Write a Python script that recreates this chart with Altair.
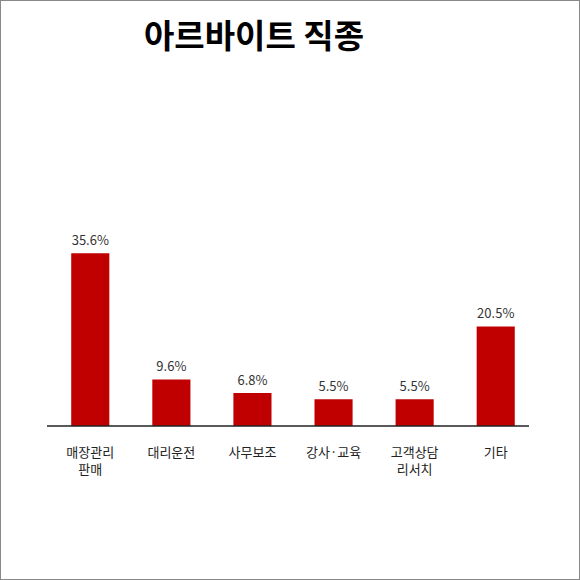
import altair as alt
import pandas as pd

# Part-time job categories and their shares (%)
categories = ["매장관리|판매", "대리운전", "사무보조", "강사·교육", "고객상담|리서치", "기타"]
shares = [35.6, 9.6, 6.8, 5.5, 5.5, 20.5]
share_labels = ["35.6%", "9.6%", "6.8%", "5.5%", "5.5%", "20.5%"]

df = pd.DataFrame({"job": categories, "share": shares, "label": share_labels})

FONT = "Noto Sans CJK KR"
W, H = 482, 200
LEFT, TOP = 52, 226

x = alt.X(
    "job:N",
    sort=categories,
    scale=alt.Scale(paddingInner=0.53, paddingOuter=0.237),
    axis=alt.Axis(
        title=None,
        domain=False,
        ticks=False,
        grid=False,
        tickSize=0,
        labelAngle=0,
        labelPadding=20,
        labelFont=FONT,
        labelFontSize=13,
        labelColor="#222222",
        labelLineHeight=17,
        labelExpr="split(datum.label, '|')",
    ),
)
y = alt.Y(
    "share:Q",
    scale=alt.Scale(domain=[0, 41.2], nice=False),
    axis=None,
)

base = alt.Chart(df)

bars = base.mark_bar(color="#c00000").encode(x=x, y=y)

values = base.mark_text(
    font=FONT, fontSize=13, color="#333333", baseline="bottom", dy=-5
).encode(x=x, y=y, text="label:N")

# baseline under the bars
baseline = alt.Chart(pd.DataFrame({"k": [0]})).mark_rule(
    color="#222222", strokeWidth=1.5
).encode(x=alt.value(-5), x2=alt.value(W - 5), y=alt.value(H))

# thin frame around the whole graphic
frame = alt.Chart(pd.DataFrame({"k": [0]})).mark_rect(
    fillOpacity=0, stroke="#888888", strokeWidth=2
).encode(
    x=alt.value(-LEFT), x2=alt.value(580 - LEFT),
    y=alt.value(-TOP), y2=alt.value(580 - TOP),
)

chart = alt.layer(bars, values, baseline, frame).properties(
    width=W,
    height=H,
    view=alt.ViewBackground(stroke="transparent", strokeWidth=0),
    autosize=alt.AutoSizeParams(type="none"),
    padding={"left": LEFT, "top": TOP, "right": 580 - LEFT - W, "bottom": 580 - TOP - H},
    title=alt.TitleParams(
        "아르바이트 직종",
        font=FONT,
        fontSize=33,
        fontWeight="bold",
        color="#000000",
        anchor="middle",
        baseline="alphabetic",
        offset=-82,
        dx=-39,
    ),
).configure_view(stroke="transparent", strokeWidth=0).configure(background="#ffffff")

chart.save("out.html", embed_options={"renderer": "svg", "actions": False})
